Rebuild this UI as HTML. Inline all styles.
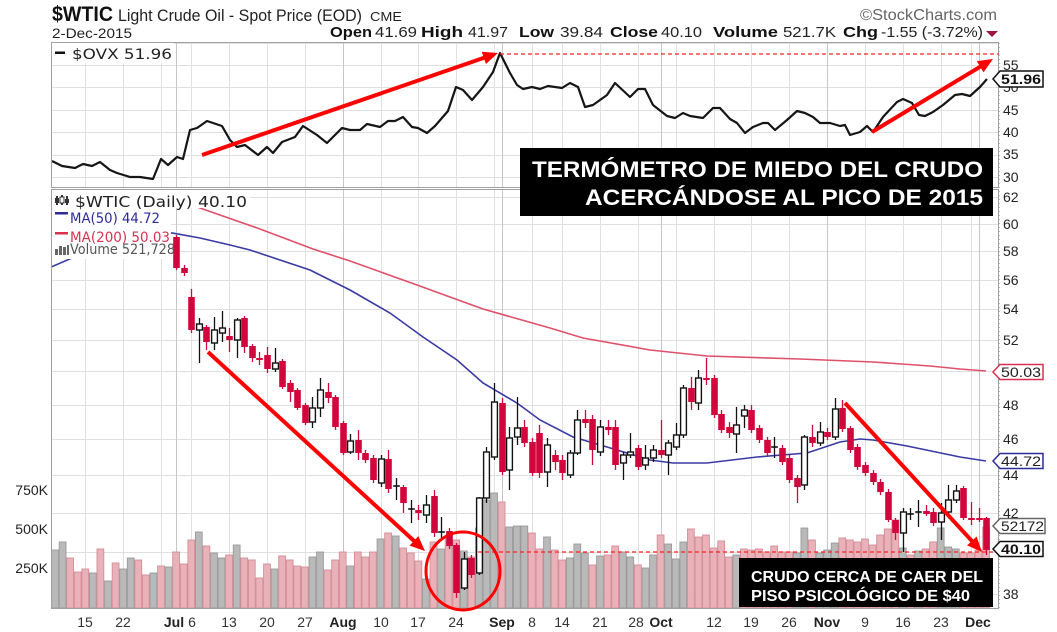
<!DOCTYPE html>
<html><head><meta charset="utf-8">
<style>
html,body{margin:0;padding:0;background:#fff;}
svg{display:block;}
text{font-family:"Liberation Sans",Arial,sans-serif;}
.lg{font-family:"DejaVu Sans","Liberation Sans",sans-serif;}
</style></head><body>
<svg id="s" width="1057" height="632" viewBox="0 0 1057 632" xmlns="http://www.w3.org/2000/svg">
<defs>
<clipPath id="cm"><rect x="52" y="190" width="946" height="418"/></clipPath>
<clipPath id="ct"><rect x="52" y="43" width="946" height="144"/></clipPath>
</defs>
<rect width="1057" height="632" fill="#fff"/>
<g id="grid"></g>
<g id="vol"></g>
<g id="ma" clip-path="url(#cm)">
<polyline fill="none" stroke="#e0506a" stroke-width="1.6" points="120,183 150,192 200,208 260,229 313,249 350,261 417,285 483,309 550,328 583,338 650,350 707,356 800,359 873,362 930,366 960,369 986,371"/>
<polyline fill="none" stroke="#3a3aa6" stroke-width="1.6" points="51,267 72,258 100,249 140,239 172,233 200,238 230,245 250,250 310,270 350,290 390,313 423,337 457,360 483,383 517,403 540,420 573,437 607,447 650,460 673,463 707,463 757,457 807,453 840,442 860,439 873,440 907,446 960,457 986,461"/>
</g>
<g id="cand"></g>
<g clip-path="url(#ct)">
<polyline fill="none" stroke="#151515" stroke-width="2.2" stroke-linejoin="round" points="52,161 62,166 75,168 83,164 92,166 100,162 110,170 117,173 130,177 140,177 153,179 161,159 168,165 177,157 183,159 190,130 197,128 207,121 213,123 222,126 230,140 237,147 245,145 258,155 267,147 273,153 282,142 295,137 303,126 317,135 327,143 342,128 350,130 360,130 367,124 380,127 388,121 395,121 403,117 412,127 418,128 427,133 435,126 448,111 456,87 463,90 472,100 483,87 493,72 500,53 510,73 517,85 523,89 532,87 540,89 548,86 562,88 570,83 578,87 585,107 593,105 607,95 615,83 630,97 638,89 645,89 653,105 667,116 675,118 683,113 690,116 703,118 713,108 720,108 730,119 737,123 745,133 753,127 763,123 768,123 775,130 787,120 797,111 805,113 813,117 820,123 830,123 840,126 845,125 850,135 860,132 867,126 873,132 883,117 897,102 903,99 912,103 919,115 925,116 933,112 943,105 955,95 962,94 970,96 980,87 987,79"/>
</g>
<!-- borders -->
<rect x="51.5" y="42.5" width="947" height="145" fill="none" stroke="#a0a0a0"/>
<rect x="51.5" y="189.5" width="947" height="419" fill="none" stroke="#a0a0a0"/>
<line x1="999.5" y1="43" x2="999.5" y2="608" stroke="#bbb" stroke-dasharray="1,3"/>
<!-- dashed reference lines -->
<line x1="500" y1="54" x2="999" y2="54" stroke="#f22" stroke-width="1.2" stroke-dasharray="4,3"/>
<line x1="478" y1="552" x2="999" y2="552" stroke="#f22" stroke-width="1.2" stroke-dasharray="4,3"/>
<g id="ann"></g>
<ellipse cx="463" cy="571" rx="37" ry="39" fill="none" stroke="#f00" stroke-width="3"/>

<!-- header -->
<text x="52" y="21" font-size="21" font-weight="bold" fill="#111" textLength="61" lengthAdjust="spacingAndGlyphs">$WTIC</text>
<text x="118" y="21" font-size="17" fill="#222" textLength="244" lengthAdjust="spacingAndGlyphs">Light Crude Oil - Spot Price (EOD)</text>
<text x="370" y="21" font-size="13" fill="#222" textLength="32" lengthAdjust="spacingAndGlyphs">CME</text>
<text x="52" y="38" font-size="14" fill="#222" textLength="80" lengthAdjust="spacingAndGlyphs">2-Dec-2015</text>
<g font-size="15" fill="#222">
<text x="330" y="37" font-weight="bold" fill="#111" textLength="42" lengthAdjust="spacingAndGlyphs">Open</text>
<text x="375" y="37" textLength="42" lengthAdjust="spacingAndGlyphs">41.69</text>
<text x="421" y="37" font-weight="bold" fill="#111" textLength="42" lengthAdjust="spacingAndGlyphs">High</text>
<text x="468" y="37" textLength="40" lengthAdjust="spacingAndGlyphs">41.97</text>
<text x="519" y="37" font-weight="bold" fill="#111" textLength="35" lengthAdjust="spacingAndGlyphs">Low</text>
<text x="560" y="37" textLength="43" lengthAdjust="spacingAndGlyphs">39.84</text>
<text x="610" y="37" font-weight="bold" fill="#111" textLength="48" lengthAdjust="spacingAndGlyphs">Close</text>
<text x="661" y="37" textLength="41" lengthAdjust="spacingAndGlyphs">40.10</text>
<text x="713" y="37" font-weight="bold" fill="#111" textLength="65" lengthAdjust="spacingAndGlyphs">Volume</text>
<text x="783" y="37" textLength="53" lengthAdjust="spacingAndGlyphs">521.7K</text>
<text x="843" y="37" font-weight="bold" fill="#111" textLength="35" lengthAdjust="spacingAndGlyphs">Chg</text>
<text x="881" y="37" textLength="102" lengthAdjust="spacingAndGlyphs">-1.55 (-3.72%)</text>
</g>
<polygon points="986,31 998,31 992,37" fill="#a0163a"/>
<text x="860" y="20" font-size="16" fill="#666" textLength="137" lengthAdjust="spacingAndGlyphs">©StockCharts.com</text>

<!-- top legend -->
<rect x="52" y="43" width="122" height="20" fill="#fff"/>
<rect x="55" y="51.5" width="10" height="2.5" fill="#111"/>
<text class="lg" x="72" y="59" font-size="14" fill="#222" textLength="100" lengthAdjust="spacingAndGlyphs">$OVX 51.96</text>

<!-- main legend -->
<rect x="52" y="190" width="198" height="18" fill="#fff"/>
<rect x="52" y="208" width="119" height="51" fill="#fff"/>
<g fill="#333">
<rect x="56" y="196" width="2" height="9"/><rect x="55" y="198" width="4" height="5"/>
<rect x="61" y="195" width="2" height="10"/><rect x="60" y="197" width="4" height="6" fill="#fff" stroke="#333" stroke-width="1"/>
<rect x="66" y="196" width="2" height="9"/><rect x="65" y="199" width="4" height="4"/>
</g>
<text class="lg" x="75" y="207" font-size="15" fill="#222" textLength="172" lengthAdjust="spacingAndGlyphs">$WTIC (Daily) 40.10</text>
<rect x="55" y="212" width="13" height="2.5" fill="#2b2b9c"/>
<text class="lg" x="70" y="223" font-size="14" fill="#2b2b9c" textLength="90" lengthAdjust="spacingAndGlyphs">MA(50) 44.72</text>
<rect x="55" y="232" width="13" height="2.5" fill="#d9304f"/>
<text class="lg" x="70" y="242" font-size="14" fill="#d9304f" textLength="100" lengthAdjust="spacingAndGlyphs">MA(200) 50.03</text>
<g fill="#666"><rect x="55" y="249" width="3" height="6"/><rect x="59" y="246" width="3" height="9"/><rect x="63" y="247" width="3" height="8"/><rect x="67" y="245" width="2" height="10"/></g>
<text class="lg" x="70" y="254" font-size="14" fill="#555" textLength="105" lengthAdjust="spacingAndGlyphs">Volume 521,728</text>

<!-- right axis labels -->
<g font-size="14" fill="#222">
<text x="1003" y="70">55</text><text x="1003" y="92">50</text><text x="1003" y="115">45</text><text x="1003" y="137">40</text><text x="1003" y="159">35</text><text x="1003" y="182">30</text>
<text x="1003" y="202">62</text><text x="1003" y="229">60</text><text x="1003" y="256">58</text><text x="1003" y="285">56</text><text x="1003" y="314">54</text><text x="1003" y="345">52</text>
<text x="1003" y="410">48</text><text x="1003" y="444">46</text><text x="1003" y="480">44</text><text x="1003" y="518">42</text><text x="1003" y="599">38</text>
</g>
<!-- left volume labels -->
<g font-size="14" fill="#222" text-anchor="end">
<text x="48" y="495">750K</text><text x="48" y="534">500K</text><text x="48" y="573">250K</text>
</g>
<!-- x axis labels -->
<g font-size="14" fill="#333" text-anchor="middle">
<text x="85" y="627">15</text><text x="123" y="627">22</text>
<text x="174" y="627" font-weight="bold" fill="#222">Jul</text><text x="192" y="627">6</text>
<text x="229" y="627">13</text><text x="267" y="627">20</text><text x="305" y="627">27</text>
<text x="343" y="627" font-weight="bold" fill="#222">Aug</text>
<text x="381" y="627">10</text><text x="418" y="627">17</text><text x="456" y="627">24</text>
<text x="502" y="627" font-weight="bold" fill="#222">Sep</text>
<text x="532" y="627">8</text><text x="562" y="627">14</text><text x="600" y="627">21</text><text x="636" y="627">28</text>
<text x="661" y="627" font-weight="bold" fill="#222">Oct</text>
<text x="714" y="627">12</text><text x="751" y="627">19</text><text x="789" y="627">26</text>
<text x="827" y="627" font-weight="bold" fill="#222">Nov</text>
<text x="865" y="627">9</text><text x="903" y="627">16</text><text x="941" y="627">23</text>
<text x="978" y="627" font-weight="bold" fill="#222">Dec</text>
</g>

<!-- annotation boxes -->
<rect x="520" y="148" width="473" height="68" fill="#000"/>
<text x="532" y="177" font-size="22" font-weight="bold" fill="#fff" textLength="451" lengthAdjust="spacingAndGlyphs">TERMÓMETRO DE MIEDO DEL CRUDO</text>
<text x="585" y="205" font-size="22" font-weight="bold" fill="#fff" textLength="398" lengthAdjust="spacingAndGlyphs">ACERCÁNDOSE AL PICO DE 2015</text>
<rect x="739" y="558" width="254" height="49" fill="#000"/>
<text x="751" y="582" font-size="16" font-weight="bold" fill="#fff" textLength="232" lengthAdjust="spacingAndGlyphs">CRUDO CERCA DE CAER DEL</text>
<text x="751" y="601" font-size="16" font-weight="bold" fill="#fff" textLength="219" lengthAdjust="spacingAndGlyphs">PISO PSICOLÓGICO DE $40</text>

<!-- value tags -->
<polygon points="993,79 1000,71 1043,71 1043,87 1000,87" fill="#fff" stroke="#111" stroke-width="1.5"/>
<text x="1001" y="84" font-size="14" font-weight="bold" fill="#111" textLength="40" lengthAdjust="spacingAndGlyphs">51.96</text>
<polygon points="993,372 1000,364.5 1043,364.5 1043,379.5 1000,379.5" fill="#fff" stroke="#d9304f" stroke-width="1.5"/>
<text x="1001" y="377" font-size="14" fill="#222" textLength="40" lengthAdjust="spacingAndGlyphs">50.03</text>
<polygon points="993,461 1000,453.5 1043,453.5 1043,468.5 1000,468.5" fill="#fff" stroke="#2b2b9c" stroke-width="1.5"/>
<text x="1001" y="466" font-size="14" fill="#222" textLength="40" lengthAdjust="spacingAndGlyphs">44.72</text>
<polygon points="993,526 1000,518.5 1045,518.5 1045,533.5 1000,533.5" fill="#fff" stroke="#666" stroke-width="1.5"/>
<text x="1001" y="531" font-size="14" fill="#222" textLength="43" lengthAdjust="spacingAndGlyphs">52172</text>
<polygon points="993,549 1000,541.5 1043,541.5 1043,556.5 1000,556.5" fill="#fff" stroke="#111" stroke-width="1.5"/>
<text x="1001" y="554" font-size="14" font-weight="bold" fill="#111" textLength="40" lengthAdjust="spacingAndGlyphs">40.10</text>
</svg>
<script>
(function(){
var NS="http://www.w3.org/2000/svg";
function el(p,tag,a){var e=document.createElementNS(NS,tag);for(var k in a)e.setAttribute(k,a[k]);p.appendChild(e);return e;}
function X(i){return 55+7.57*i;}
function PY(p){return 197+811*Math.log(62/p);}
var grid=document.getElementById('grid'),vol=document.getElementById('vol'),cand=document.getElementById('cand'),ann=document.getElementById('ann');
var p,y;
for(p=38;p<=62;p+=2){y=Math.round(PY(p))+0.5;el(grid,'line',{x1:52,x2:998,y1:y,y2:y,stroke:'#e0e0e0'});}
[60,55,50,45,40,35,30].forEach(function(v){var yy=Math.round(65+4.48*(55-v))+0.5;if(yy>43)el(grid,'line',{x1:52,x2:998,y1:yy,y2:yy,stroke:'#e0e0e0'});});
var wk=[4,9,14,18,23,28,33,43,48,53,58,63,67,72,77,82,87,92,97,107,112,117,121];
var mo=[16,38,59,80,102,122];
wk.forEach(function(k){var xx=Math.round(X(k))+0.5;el(grid,'line',{x1:xx,x2:xx,y1:43,y2:187,stroke:'#e0e0e0'});el(grid,'line',{x1:xx,x2:xx,y1:190,y2:608,stroke:'#e0e0e0'});});
mo.forEach(function(k){var xx=Math.round(X(k))+0.5;el(grid,'line',{x1:xx,x2:xx,y1:43,y2:187,stroke:'#c6c6c6'});el(grid,'line',{x1:xx,x2:xx,y1:190,y2:608,stroke:'#c6c6c6'});});
var V="g550 g542 p558 p572 p569 g573 p549 g581 p563 g569 g558 p560 p575 g573 p566 g567 p552 p564 p540 g532 p546 g553 g558 p555 g545 p558 p560 p578 p564 g569 p556 p560 p566 p567 g557 g552 p570 p560 p552 g566 p552 p557 p552 g539 p533 g536 p548 p553 p561 g579 p542 g549 p537 p540 g551 p557 g528 g500 g493 p502 g527 g526 g526 p533 p549 g537 p550 p560 g558 g544 g553 p565 g556 p555 p546 g552 g557 p565 g568 g555 p535 g544 g559 g542 p529 p537 p535 p548 p541 p557 g555 p549 p550 p549 p552 p546 p552 p552 g553 g528 p540 g553 g550 g543 p538 p540 p542 p539 p545 p535 p529 p520 g548 p555 g551 p549 p542 g528 g547 g549 p553 p553 p550 p527".split(' ');
V.forEach(function(s,k){var c=s[0],t=+s.slice(1);var xx=X(k);
el(vol,'rect',{x:(xx-3.4).toFixed(1),y:t,width:6.8,height:608-t,fill:c=='g'?'#b9b9b9':'#e9b2b9',stroke:c=='g'?'#9a9a9a':'#d48d98','stroke-width':0.9});});
var C="r,237,268,235,270;r,268,273,265,276;r,297,330,289,333;h,324,330,318,363;r,327,342,325,350;h,330,343,317,350;h,328,333,311,342;r,336,340,328,352;h,320,340,318,358;r,318,347,316,353;r,346,358,344,362;r,358,360,352,365;r,355,369,347,373;h,363,369,348,372;r,361,387,359,389;r,383,392,380,402;r,390,408,388,410;r,405,423,403,425;h,408,422,397,428;h,390,408,378,417;r,392,398,383,403;r,397,427,395,430;r,423,453,421,455;h,441,452,434,454;r,440,453,430,460;r,453,460,450,463;r,458,480,455,483;h,459,483,455,487;r,459,489,450,493;c,486,487,478,500;r,487,503,485,513;c,509,510,500,523;r,510,513,505,520;h,505,515,495,523;r,496,533,490,537;c,532,533,517,540;r,531,546,528,549;r,545,593,543,598;h,559,588,552,590;r,558,575,555,578;h,498,573,497,575;h,452,498,447,503;h,402,457,383,460;r,403,472,398,475;h,438,470,427,490;h,428,437,397,445;r,427,443,420,447;r,442,473,438,476;r,433,473,425,478;h,445,472,438,487;r,455,462,450,470;r,460,473,455,480;h,453,475,450,478;h,420,453,410,455;r,419,423,410,428;r,419,450,415,465;h,427,452,420,456;r,427,430,420,435;r,427,465,420,470;h,455,463,452,480;h,452,455,433,458;r,448,467,445,470;h,458,465,445,470;h,450,458,445,462;r,450,455,420,458;h,443,455,440,475;h,435,447,423,450;h,388,435,385,438;r,388,402,377,410;h,378,403,370,410;r,378,380,358,385;r,378,415,375,418;r,414,430,410,433;r,427,433,422,438;h,425,434,407,453;h,410,416,405,428;r,410,430,405,433;r,428,440,425,443;r,440,453,437,456;c,447,452,437,458;r,448,462,445,465;r,458,480,455,483;r,478,487,475,503;h,437,485,435,490;r,437,443,425,447;h,432,443,422,446;r,432,437,428,440;h,409,437,398,440;r,408,429,400,432;r,428,450,426,453;r,447,467,444,470;r,465,473,462,476;r,473,482,470,485;r,482,492,479,495;r,492,520,489,522;r,520,533,518,540;h,512,533,508,552;c,514,515,508,520;c,512,513,500,527;r,511,514,505,516;r,512,523,508,526;h,513,522,503,540;h,500,512,485,515;h,491,500,485,503;r,488,518,486,520;r,518,520,502,525;r,518,520,508,522;r,518,550,517,555".split(';');
var RED='#d2063c';
C.forEach(function(s,k){var d=s.split(','),t=d[0],a=+d[1],b=+d[2],h=+d[3],l=+d[4];var cx=Math.round(X(16+k))+0.5;
if(t=='r'){el(cand,'line',{x1:cx,x2:cx,y1:h,y2:l,stroke:RED,'stroke-width':1.3});el(cand,'rect',{x:cx-3.3,y:a,width:6.6,height:Math.max(b-a,2),fill:RED});}
else if(t=='h'){el(cand,'line',{x1:cx,x2:cx,y1:h,y2:l,stroke:'#111','stroke-width':1.3});el(cand,'rect',{x:cx-2.9,y:a,width:5.8,height:Math.max(b-a,2),fill:'#fff',stroke:'#111','stroke-width':1.4});}
else{el(cand,'line',{x1:cx,x2:cx,y1:h,y2:l,stroke:'#111','stroke-width':1.3});el(cand,'line',{x1:cx-3.3,x2:cx+3.3,y1:a,y2:a,stroke:'#111','stroke-width':1.6});}
});
function arrow(x1,y1,x2,y2){var dx=x2-x1,dy=y2-y1,L=Math.sqrt(dx*dx+dy*dy),ux=dx/L,uy=dy/L,hl=15,hw=6.5;var bx=x2-ux*hl,by=y2-uy*hl;
el(ann,'line',{x1:x1,y1:y1,x2:bx+ux*3,y2:by+uy*3,stroke:'#f00','stroke-width':4});
el(ann,'polygon',{points:x2+','+y2+' '+(bx-uy*hw)+','+(by+ux*hw)+' '+(bx+uy*hw)+','+(by-ux*hw),fill:'#f00'});}
arrow(202,155,498,53);
arrow(872,132,993,59);
arrow(208,352,425,551);
arrow(845,403,982,552);
})();
</script>
</body></html>
